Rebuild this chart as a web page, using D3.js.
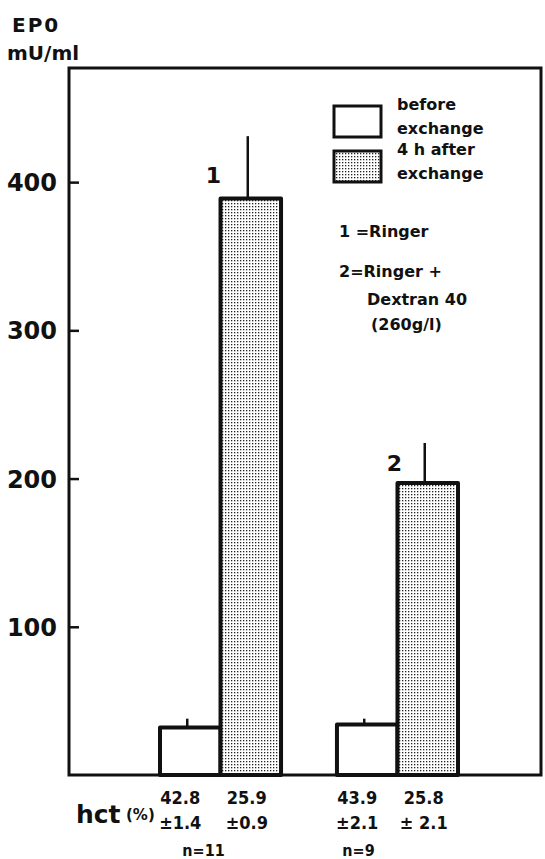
<!DOCTYPE html>
<html>
<head>
<meta charset="utf-8">
<script src="https://cdn.jsdelivr.net/npm/d3@7"></script>
<style>
  body { margin: 0; background: #fff; }
  text { font-family: "DejaVu Sans", sans-serif; font-weight: bold; fill: #111; }
  .cond { font-family: "DejaVu Sans Condensed", "DejaVu Sans", sans-serif; }
</style>
</head>
<body>
<svg id="chart" width="545" height="859"></svg>
<script>
// data
var groups = ["1", "2"];
var series = ["before", "after"];
var beforeVals = [32, 34];
var beforeErr = [6, 4];
var afterVals = [389, 197];
var afterErr = [42, 27];
var yTicks = [100, 200, 300, 400];
var hctMean = ["42.8", "25.9", "43.9", "25.8"];
var hctSd = ["±1.4", "±0.9", "±2.1", "± 2.1"];
var nLabels = ["n=11", "n=9"];
var legendLabels = [["before", "exchange"], ["4 h after", "exchange"]];
var noteLines = ["1 =Ringer", "2=Ringer  +", "Dextran 40", "(260g/l)"];

var svg = d3.select("#chart");
var margin = { top: 68, right: 4, bottom: 84, left: 69 };
var width = +svg.attr("width") - margin.left - margin.right;
var height = +svg.attr("height") - margin.top - margin.bottom;

var defs = svg.append("defs");
var pat = defs.append("pattern")
  .attr("id", "dots")
  .attr("patternUnits", "userSpaceOnUse")
  .attr("width", 3).attr("height", 3);
pat.append("rect").attr("width", 3).attr("height", 3).attr("fill", "#fff");
pat.append("rect").attr("width", 1.3).attr("height", 1.3).attr("fill", "#222");

var g = svg.append("g")
  .attr("transform", "translate(" + margin.left + "," + margin.top + ")");

var y = d3.scaleLinear().domain([0, 477]).range([height, 0]);
var x0 = d3.scaleBand().domain(groups).range([91, 389]).paddingInner(0.316).paddingOuter(0);
var x1 = d3.scaleBand().domain(series).range([0, x0.bandwidth()]).padding(0);

// frame
g.append("rect")
  .attr("x", 0).attr("y", 0)
  .attr("width", width).attr("height", height)
  .attr("fill", "none").attr("stroke", "#111").attr("stroke-width", 3);

// y axis, ticks pointing inward
var yAxis = g.append("g")
  .attr("class", "y axis")
  .call(d3.axisLeft(y).tickValues(yTicks).tickSize(-10).tickPadding(12).tickSizeOuter(0));
yAxis.select(".domain").remove();
yAxis.selectAll("line").attr("stroke", "#111").attr("stroke-width", 2.5);
yAxis.selectAll("text")
  .style("font-size", "24px")
  .style("font-family", "'DejaVu Sans', sans-serif")
  .style("font-weight", "bold")
  .attr("dy", "0.36em");

var rows = groups.map(function (k, i) {
  return [
    { grp: k, s: "before", v: beforeVals[i], e: beforeErr[i] },
    { grp: k, s: "after", v: afterVals[i], e: afterErr[i] }
  ];
});
var bars = [].concat.apply([], rows);

// error bars (upper only)
g.selectAll(".err")
  .data(bars)
  .enter()
  .append("line")
  .attr("class", "err")
  .attr("x1", d => x0(d.grp) + x1(d.s) + x1.bandwidth() / 2 - 3)
  .attr("x2", d => x0(d.grp) + x1(d.s) + x1.bandwidth() / 2 - 3)
  .attr("y1", d => y(d.v))
  .attr("y2", d => y(d.v + d.e))
  .attr("stroke", "#111").attr("stroke-width", 2.5);

g.selectAll(".bar")
  .data(bars)
  .enter()
  .append("rect")
  .attr("class", "bar")
  .attr("x", d => x0(d.grp) + x1(d.s))
  .attr("y", d => y(d.v))
  .attr("width", x1.bandwidth())
  .attr("height", d => height - y(d.v))
  .attr("fill", d => d.s === "after" ? "url(#dots)" : "#fff")
  .attr("stroke", "#111")
  .attr("stroke-width", 4)
  .attr("stroke-linejoin", "round");

// group numbers above the after-bars
g.selectAll(".grpnum")
  .data(groups)
  .enter()
  .append("text")
  .attr("x", (d, i) => x0(d) + x1("after") - (i === 0 ? 7 : 3))
  .attr("y", (d, i) => y(afterVals[i]) - (i === 0 ? 15 : 12))
  .attr("text-anchor", "middle")
  .style("font-size", "22px")
  .text(d => d);

// axis title
svg.append("text").attr("x", 12).attr("y", 32).style("font-size", "20px")
  .style("letter-spacing", "2px").text("EP0");
svg.append("text").attr("x", 7).attr("y", 60).style("font-size", "20px").text("mU/ml");

// legend
var leg = svg.append("g");
legendLabels.forEach(function (lines, i) {
  var top = 106 + i * 45;
  leg.append("rect")
    .attr("x", 334).attr("y", top)
    .attr("width", 47).attr("height", 31)
    .attr("fill", i === 0 ? "#fff" : "url(#dots)")
    .attr("stroke", "#111").attr("stroke-width", 3);
  lines.forEach(function (t, j) {
    leg.append("text")
      .attr("x", 397).attr("y", top + 4 + j * 24)
      .style("font-size", "16px")
      .text(t);
  });
});
var noteX = [339, 339, 367, 371];
var noteY = [237, 277, 305, 330];
noteLines.forEach(function (t, i) {
  leg.append("text").attr("x", noteX[i]).attr("y", noteY[i])
    .style("font-size", "16px").text(t);
});

// hct row
svg.append("text").attr("x", 76).attr("y", 823).style("font-size", "25px").text("hct");
svg.append("text").attr("x", 126).attr("y", 820).style("font-size", "15px").text("(%)");
bars.forEach(function (d, i) {
  var cx = margin.left + x0(d.grp) + x1(d.s) + x1.bandwidth() / 2 + (d.s === "before" ? -10 : -4);
  svg.append("text").attr("class", "cond").attr("x", cx).attr("y", 804).attr("text-anchor", "middle")
    .style("font-size", "18px").text(hctMean[i]);
  svg.append("text").attr("class", "cond").attr("x", cx).attr("y", 829).attr("text-anchor", "middle")
    .style("font-size", "18px").text(hctSd[i]);
});
groups.forEach(function (k, i) {
  svg.append("text").attr("class", "cond")
    .attr("x", margin.left + x0(k) + x0.bandwidth() / 2 - (i === 0 ? 17 : 39))
    .attr("y", 856).attr("text-anchor", "middle")
    .style("font-size", "16px").text(nLabels[i]);
});
</script>
</body>
</html>
